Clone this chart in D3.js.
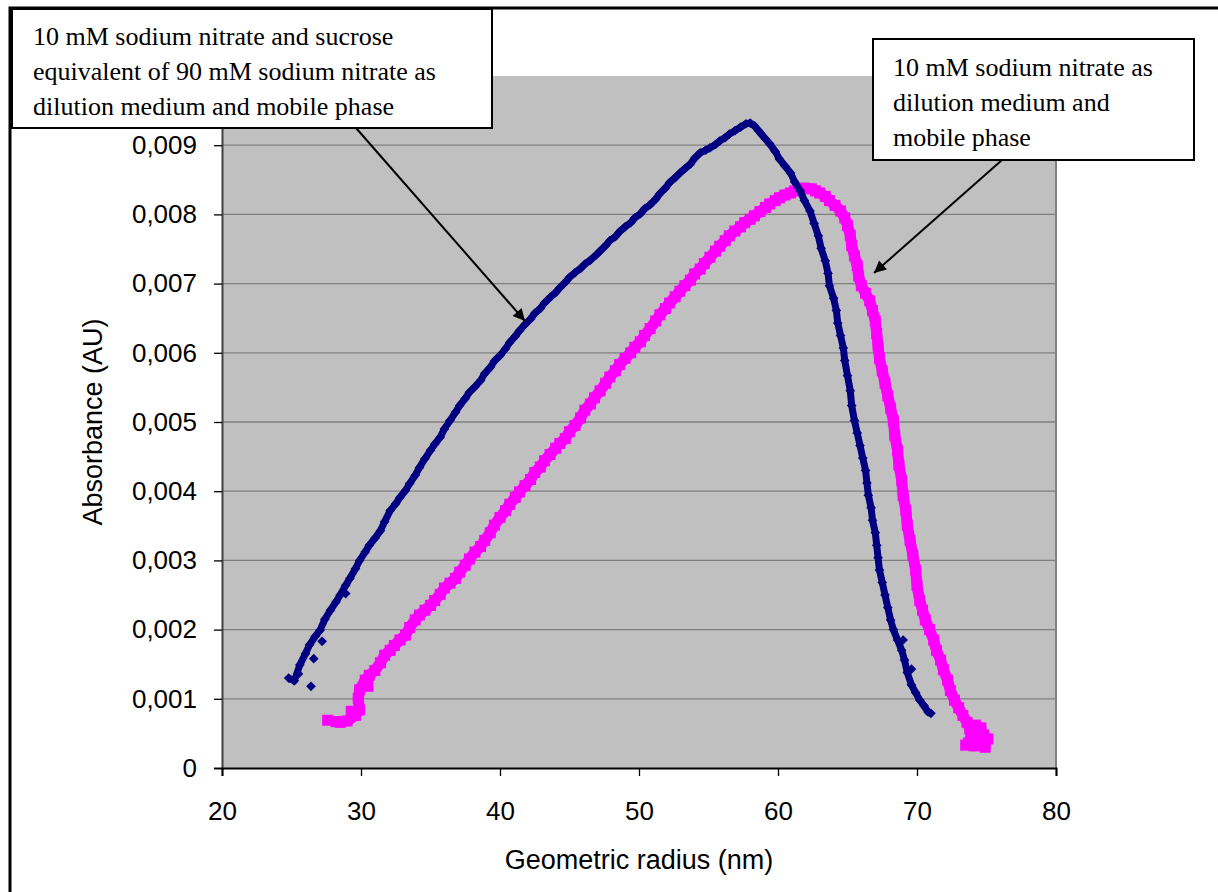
<!DOCTYPE html>
<html>
<head>
<meta charset="utf-8">
<script src="https://cdn.jsdelivr.net/npm/d3@7"></script>
<style>
  body { margin: 0; background: #fff; }
  svg { display: block; }
</style>
</head>
<body>
<svg id="chart"></svg>
<script>
// axis ticks
let xTicks = [20, 30, 40, 50, 60, 70, 80];
let yTicks = [0, 0.001, 0.002, 0.003, 0.004, 0.005, 0.006, 0.007, 0.008, 0.009];

// 10 mM NaNO3 + sucrose (navy diamonds): [radius nm, absorbance AU]
let sucroseSeries = [
  [24.8, 0.00130], [25.2, 0.00126], [25.6, 0.00149], [26.0, 0.00165], [26.3, 0.00178],
  [26.7, 0.00190], [27.05, 0.00199], [27.4, 0.00215], [27.8, 0.00228], [28.2, 0.00240], [28.5, 0.00250],
  [28.9, 0.00264], [29.2, 0.00274], [29.6, 0.00288], [29.9, 0.00300], [30.3, 0.00312], [30.6, 0.00322],
  [31.0, 0.00332], [31.4, 0.00343], [31.7, 0.00356], [32.1, 0.00372], [32.5, 0.00382], [32.8, 0.00391],
  [33.2, 0.00401], [33.5, 0.00411], [33.9, 0.00423], [34.2, 0.00434], [34.6, 0.00447], [35.0, 0.00459],
  [35.3, 0.00468], [35.7, 0.00478], [36.0, 0.00490], [36.4, 0.00502], [36.8, 0.00514], [37.1, 0.00524],
  [37.5, 0.00534], [37.8, 0.00543], [38.2, 0.00551], [38.6, 0.00560], [38.9, 0.00570], [39.3, 0.00579],
  [39.6, 0.00588], [40.0, 0.00596], [40.4, 0.00606], [40.7, 0.00615], [41.1, 0.00624], [41.4, 0.00632],
  [41.8, 0.00641], [42.2, 0.00649], [42.5, 0.00657], [42.9, 0.00664], [43.2, 0.00672], [43.6, 0.00680],
  [44.0, 0.00687], [44.3, 0.00694], [44.7, 0.00702], [45.0, 0.00709], [45.4, 0.00716], [45.8, 0.00722],
  [46.1, 0.00728], [46.5, 0.00734], [46.9, 0.00741], [47.2, 0.00747], [47.6, 0.00755], [47.9, 0.00762],
  [48.3, 0.00768], [48.6, 0.00775], [49.0, 0.00782], [49.4, 0.00788], [49.7, 0.00795], [50.1, 0.00801],
  [50.4, 0.00808], [50.8, 0.00814], [51.2, 0.00822], [51.5, 0.00830], [51.9, 0.00838], [52.2, 0.00846],
  [52.6, 0.00853], [52.95, 0.00860], [53.3, 0.00866], [53.7, 0.00873], [54.0, 0.00881], [54.4, 0.00889],
  [54.8, 0.00893], [55.1, 0.00896], [55.5, 0.00901], [55.8, 0.00906], [56.2, 0.00911], [56.5, 0.00916],
  [56.9, 0.00921], [57.3, 0.00926], [57.7, 0.00931], [58.0, 0.00932], [58.3, 0.00928], [58.6, 0.00921],
  [58.8, 0.00916], [59.1, 0.00909], [59.4, 0.00902], [59.8, 0.00891], [60.1, 0.00880], [60.5, 0.00870],
  [60.9, 0.00860], [61.2, 0.00847], [61.6, 0.00834], [61.9, 0.00820], [62.3, 0.00805], [62.6, 0.00787],
  [62.9, 0.00769], [63.1, 0.00751], [63.4, 0.00733], [63.6, 0.00715], [63.7, 0.00697], [64.0, 0.00679],
  [64.2, 0.00661], [64.3, 0.00643], [64.5, 0.00625], [64.7, 0.00607], [64.8, 0.00589], [65.0, 0.00567],
  [65.2, 0.00545], [65.3, 0.00524], [65.5, 0.00502], [65.7, 0.00484], [65.9, 0.00466], [66.1, 0.00448],
  [66.3, 0.00430], [66.4, 0.00412], [66.5, 0.00394], [66.7, 0.00376], [66.8, 0.00358], [67.0, 0.00340],
  [67.1, 0.00322], [67.2, 0.00304], [67.3, 0.00286], [67.5, 0.00268], [67.7, 0.00250], [67.9, 0.00232],
  [68.1, 0.00214], [68.3, 0.00200], [68.6, 0.00185], [68.9, 0.00170], [69.1, 0.00156], [69.3, 0.00138],
  [69.6, 0.00120], [69.9, 0.00109], [70.2, 0.00098], [70.5, 0.00090], [70.8, 0.00081], [71.0, 0.00079]
];
// stray navy points off the main trace
let sucroseStrays = [[26.4, 0.00118], [25.5, 0.00136], [26.6, 0.00158], [27.2, 0.00183], [28.9, 0.00252], [69.0, 0.00185], [69.6, 0.00143]];

// 10 mM NaNO3 only (magenta squares): [radius nm, absorbance AU]
let nitrateSeries = [
  [28.2, 0.00067], [28.5, 0.00066], [29.0, 0.00068], [29.6, 0.00076], [29.9, 0.00084],
  [29.8, 0.00100], [29.9, 0.00113], [30.3, 0.00127], [30.6, 0.00134], [31.0, 0.00141], [31.4, 0.00152],
  [31.7, 0.00163], [32.1, 0.00170], [32.4, 0.00177], [32.8, 0.00185], [33.2, 0.00192], [33.5, 0.00203],
  [33.9, 0.00214], [34.2, 0.00221], [34.6, 0.00228], [35.0, 0.00235], [35.3, 0.00242], [35.7, 0.00251],
  [36.0, 0.00260], [36.4, 0.00267], [36.8, 0.00274], [37.1, 0.00283], [37.5, 0.00293], [37.8, 0.00302],
  [38.2, 0.00312], [38.6, 0.00320], [38.9, 0.00329], [39.3, 0.00340], [39.6, 0.00351], [40.0, 0.00362],
  [40.4, 0.00372], [40.7, 0.00381], [41.1, 0.00391], [41.4, 0.00399], [41.8, 0.00408], [42.2, 0.00417],
  [42.5, 0.00427], [42.9, 0.00435], [43.2, 0.00444], [43.6, 0.00453], [44.0, 0.00462], [44.3, 0.00469],
  [44.7, 0.00476], [45.0, 0.00486], [45.4, 0.00495], [45.8, 0.00506], [46.1, 0.00517], [46.5, 0.00526],
  [46.8, 0.00535], [47.2, 0.00545], [47.6, 0.00556], [47.9, 0.00565], [48.3, 0.00574], [48.6, 0.00583],
  [49.0, 0.00592], [49.4, 0.00600], [49.7, 0.00608], [50.1, 0.00616], [50.4, 0.00625], [50.8, 0.00635],
  [51.2, 0.00646], [51.5, 0.00655], [51.9, 0.00664], [52.2, 0.00672], [52.6, 0.00681], [52.95, 0.00689],
  [53.3, 0.00697], [53.7, 0.00705], [54.0, 0.00714], [54.4, 0.00721], [54.7, 0.00729], [55.1, 0.00738],
  [55.5, 0.00747], [55.8, 0.00754], [56.2, 0.00762], [56.5, 0.00769], [56.9, 0.00776], [57.3, 0.00782],
  [57.6, 0.00788], [58.0, 0.00793], [58.3, 0.00798], [58.7, 0.00804], [59.1, 0.00810], [59.4, 0.00815],
  [59.8, 0.00820], [60.1, 0.00824], [60.5, 0.00828], [60.9, 0.00831], [61.2, 0.00834], [61.6, 0.00836],
  [61.9, 0.00838], [62.4, 0.00837], [62.7, 0.00834], [63.0, 0.00831], [63.4, 0.00826], [63.7, 0.00820],
  [64.1, 0.00813], [64.5, 0.00805], [64.8, 0.00795], [65.0, 0.00784], [65.2, 0.00770], [65.3, 0.00755],
  [65.5, 0.00740], [65.7, 0.00726], [65.8, 0.00711], [66.0, 0.00697], [66.3, 0.00686], [66.6, 0.00675],
  [66.8, 0.00661], [67.0, 0.00646], [67.1, 0.00628], [67.2, 0.00610], [67.3, 0.00592], [67.5, 0.00574],
  [67.7, 0.00556], [67.9, 0.00538], [68.1, 0.00520], [68.3, 0.00502], [68.4, 0.00481], [68.6, 0.00459],
  [68.7, 0.00438], [68.9, 0.00416], [69.0, 0.00394], [69.2, 0.00372], [69.3, 0.00351], [69.5, 0.00329],
  [69.7, 0.00308], [69.9, 0.00286], [70.0, 0.00264], [70.2, 0.00242], [70.4, 0.00228], [70.6, 0.00214],
  [70.9, 0.00200], [71.2, 0.00185], [71.4, 0.00170], [71.7, 0.00156], [71.9, 0.00142], [72.2, 0.00127],
  [72.4, 0.00112], [72.7, 0.00098], [73.0, 0.00087], [73.3, 0.00076], [73.6, 0.00066], [73.8, 0.00056],
  [73.9, 0.00046], [73.7, 0.00036], [74.1, 0.00032], [74.5, 0.00033], [74.9, 0.00036], [75.1, 0.00042],
  [74.8, 0.00048], [74.4, 0.00044], [74.0, 0.00040], [74.3, 0.00052], [74.6, 0.00058], [74.2, 0.00062]
];
// stray magenta points off the main trace
let nitrateStrays = [[27.6, 0.00069], [29.3, 0.00082], [30.5, 0.00118], [73.5, 0.00033], [74.9, 0.00030]];

let sucroseNote = ['10 mM sodium nitrate and sucrose', 'equivalent of 90 mM sodium nitrate as', 'dilution medium and mobile phase'];
let nitrateNote = ['10 mM sodium nitrate as', 'dilution medium and', 'mobile phase'];

let width = 1218, height = 892;
let plot = { left: 222, right: 1056, top: 76, bottom: 768 };

let svg = d3.select('#chart').attr('width', width).attr('height', height);

svg.append('rect').attr('width', width).attr('height', height).attr('fill', '#fff');

// outer chart frame (cut off at right and bottom)
svg.append('rect')
  .attr('x', 10).attr('y', 8)
  .attr('width', 1400).attr('height', 1000)
  .attr('fill', 'none').attr('stroke', '#000').attr('stroke-width', 3);

let x = d3.scaleLinear().domain([20, 80]).range([plot.left, plot.right]);
let y = d3.scaleLinear().domain([0, 0.01]).range([plot.bottom, plot.top]);

let locale = d3.formatLocale({ decimal: ',', thousands: '.', grouping: [3], currency: ['', ''] });
let yFormat = locale.format('.3f');

// plot area
svg.append('rect')
  .attr('x', plot.left).attr('y', plot.top)
  .attr('width', plot.right - plot.left).attr('height', plot.bottom - plot.top)
  .attr('fill', '#c0c0c0');

// gridlines
svg.append('g')
  .selectAll('line')
  .data(yTicks.filter((d) => d > 0))
  .join('line')
  .attr('x1', plot.left).attr('x2', plot.right)
  .attr('y1', (d) => y(d)).attr('y2', (d) => y(d))
  .attr('stroke', '#808080').attr('stroke-width', 1.3);

svg.append('line')
  .attr('x1', plot.right).attr('x2', plot.right)
  .attr('y1', plot.top).attr('y2', plot.bottom)
  .attr('stroke', '#808080').attr('stroke-width', 2);

// axes
let yAxis = d3.axisLeft(y).tickValues(yTicks).tickSize(8).tickPadding(17)
  .tickFormat((d) => (d === 0 ? '0' : yFormat(d)));
let xAxis = d3.axisBottom(x).tickValues(xTicks).tickSize(8).tickPadding(26);

let gy = svg.append('g').attr('transform', `translate(${plot.left},0)`).call(yAxis);
let gx = svg.append('g').attr('transform', `translate(0,${plot.bottom})`).call(xAxis);

[gx, gy].forEach((g) => {
  g.select('.domain').attr('stroke', '#000').attr('stroke-width', 2);
  g.selectAll('.tick line').attr('stroke', '#000').attr('stroke-width', 1.3);
  g.selectAll('.tick text')
    .attr('fill', '#000')
    .style('font-family', '"Liberation Sans", Arial, sans-serif')
    .style('font-size', '26px');
});
gy.select('.domain').attr('stroke', '#404040');

// series
let line = d3.line().x((d) => x(d[0])).y((d) => y(d[1]));

svg.append('path')
  .datum(nitrateSeries)
  .attr('d', line)
  .attr('fill', 'none').attr('stroke', '#ff00ff')
  .attr('stroke-width', 11).attr('stroke-linejoin', 'round');

svg.append('g')
  .selectAll('rect')
  .data(nitrateSeries.concat(nitrateStrays))
  .join('rect')
  .attr('x', (d) => x(d[0]) - 5.5).attr('y', (d) => y(d[1]) - 5.5)
  .attr('width', 11).attr('height', 11)
  .attr('fill', '#ff00ff');

svg.append('path')
  .datum(sucroseSeries)
  .attr('d', line)
  .attr('fill', 'none').attr('stroke', '#000080')
  .attr('stroke-width', 7).attr('stroke-linejoin', 'round');

let diamond = d3.symbol().type(d3.symbolDiamond2).size(60);
svg.append('g')
  .selectAll('path')
  .data(sucroseSeries.concat(sucroseStrays))
  .join('path')
  .attr('d', diamond)
  .attr('transform', (d) => `translate(${x(d[0])},${y(d[1])})`)
  .attr('fill', '#000080');

// axis titles
svg.append('text')
  .attr('transform', 'translate(93,422) rotate(-90)')
  .attr('text-anchor', 'middle').attr('dominant-baseline', 'central')
  .style('font-family', '"Liberation Sans", Arial, sans-serif')
  .style('font-size', '27px')
  .text('Absorbance (AU)');

svg.append('text')
  .attr('x', 639).attr('y', 869)
  .attr('text-anchor', 'middle')
  .style('font-family', '"Liberation Sans", Arial, sans-serif')
  .style('font-size', '27px')
  .text('Geometric radius (nm)');

// callouts
svg.append('defs').append('marker')
  .attr('id', 'head')
  .attr('viewBox', '0 0 10 10')
  .attr('refX', 10).attr('refY', 5)
  .attr('markerWidth', 16).attr('markerHeight', 12)
  .attr('markerUnits', 'userSpaceOnUse')
  .attr('orient', 'auto')
  .append('path').attr('d', 'M0,0L10,5L0,10Z').attr('fill', '#000');

svg.append('line')
  .attr('x1', 356).attr('y1', 128).attr('x2', 525).attr('y2', 321)
  .attr('stroke', '#000').attr('stroke-width', 2)
  .attr('marker-end', 'url(#head)');

svg.append('line')
  .attr('x1', 1002).attr('y1', 160).attr('x2', 874).attr('y2', 273)
  .attr('stroke', '#000').attr('stroke-width', 2)
  .attr('marker-end', 'url(#head)');

function callout(box, lines, tx, baselines) {
  svg.append('rect')
    .attr('x', box[0]).attr('y', box[1])
    .attr('width', box[2] - box[0]).attr('height', box[3] - box[1])
    .attr('fill', '#fff').attr('stroke', '#000').attr('stroke-width', 2);
  svg.append('g')
    .selectAll('text')
    .data(lines)
    .join('text')
    .attr('x', tx).attr('y', (d, i) => baselines[i])
    .style('font-family', '"Liberation Serif", "Times New Roman", serif')
    .style('font-size', '26px')
    .text((d) => d);
}

callout([12, 9, 492, 128], sucroseNote, 33, [45, 80, 115]);
callout([873, 39, 1194, 160], nitrateNote, 893, [76, 111, 146]);
</script>
</body>
</html>
